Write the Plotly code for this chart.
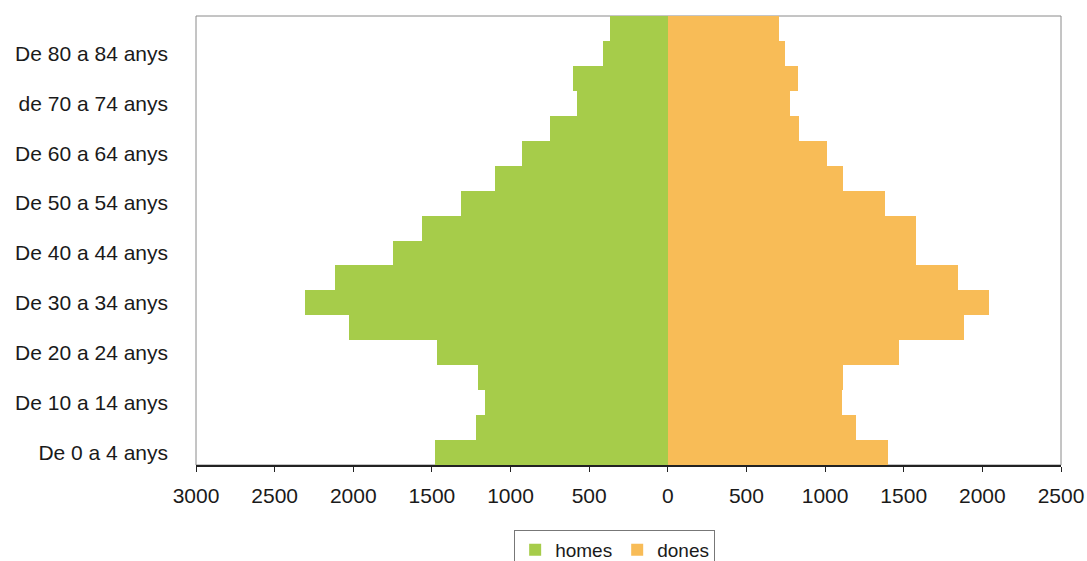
import plotly.graph_objects as go

categories = [
    "De 0 a 4 anys", "De 5 a 9 anys", "De 10 a 14 anys", "De 15 a 19 anys",
    "De 20 a 24 anys", "De 25 a 29 anys", "De 30 a 34 anys", "De 35 a 39 anys",
    "De 40 a 44 anys", "De 45 a 49 anys", "De 50 a 54 anys", "De 55 a 59 anys",
    "De 60 a 64 anys", "De 65 a 69 anys", "de 70 a 74 anys", "De 75 a 79 anys",
    "De 80 a 84 anys", "De 85 anys i més",
]
homes = [1480, 1221, 1162, 1205, 1470, 2027, 2307, 2116, 1746, 1561,
         1317, 1099, 929, 749, 579, 600, 410, 367]
dones = [1399, 1196, 1107, 1113, 1473, 1885, 2040, 1845, 1575, 1575,
         1384, 1113, 1011, 831, 774, 825, 746, 710]
x_ticks = [-3000, -2500, -2000, -1500, -1000, -500, 0, 500, 1000, 1500, 2000, 2500]
x_tick_labels = ["3000", "2500", "2000", "1500", "1000", "500", "0",
                 "500", "1000", "1500", "2000", "2500"]

pos = list(range(len(categories)))
shown = pos[::2][:9]

fig = go.Figure()
fig.add_trace(go.Bar(
    y=pos, x=[-v for v in homes], orientation="h", name="homes",
    marker=dict(color="#A6CC4A", line=dict(width=0)),
))
fig.add_trace(go.Bar(
    y=pos, x=dones, orientation="h", name="dones",
    marker=dict(color="#F8BC57", line=dict(width=0)),
))

font_family = "Liberation Sans, Arial, sans-serif"
zero_pos = 3000 / 5500

fig.update_layout(
    width=1087, height=561,
    margin=dict(l=196, r=26, t=16, b=96, autoexpand=False),
    paper_bgcolor="white", plot_bgcolor="white",
    barmode="relative", bargap=0,
    font=dict(family=font_family, size=21, color="#1a1a1a"),
    showlegend=True,
    legend=dict(
        orientation="h", x=0.484, y=-0.1448, xanchor="center", yanchor="top",
        bordercolor="#777", borderwidth=1, font=dict(size=19),
        itemwidth=30, tracegroupgap=0,
    ),
    xaxis=dict(
        range=[-3000, 2500], tickvals=x_ticks, ticktext=x_tick_labels,
        showgrid=False, zeroline=False, showline=True, linecolor="#222",
        linewidth=1.5, ticks="outside", ticklen=5, tickcolor="#222",
        ticklabelstandoff=6, fixedrange=True, automargin=False,
    ),
    yaxis=dict(
        range=[-0.5, 17.5], tickvals=shown,
        ticktext=[categories[i] for i in shown],
        showgrid=False, zeroline=False, showline=False, ticks="",
        ticklabelstandoff=27, fixedrange=True, automargin=False,
    ),
    yaxis2=dict(
        overlaying="y", anchor="free", position=zero_pos,
        range=[-0.5, 17.5], tickvals=[p + 0.5 for p in pos[:-1]],
        showticklabels=False, showgrid=False, zeroline=False,
        showline=True, linecolor="#222", linewidth=1.5,
        ticks="outside", ticklen=5, tickcolor="#222", fixedrange=True,
        automargin=False,
    ),
    shapes=[dict(type="rect", xref="paper", yref="paper", x0=0, x1=1, y0=0, y1=1,
                 line=dict(color="#8a8a8a", width=1), layer="below")],
)

fig.write_html(
    "out.html",
    config={"displayModeBar": False},
    post_script="document.body.style.margin='0';document.body.style.overflow='hidden';",
)
